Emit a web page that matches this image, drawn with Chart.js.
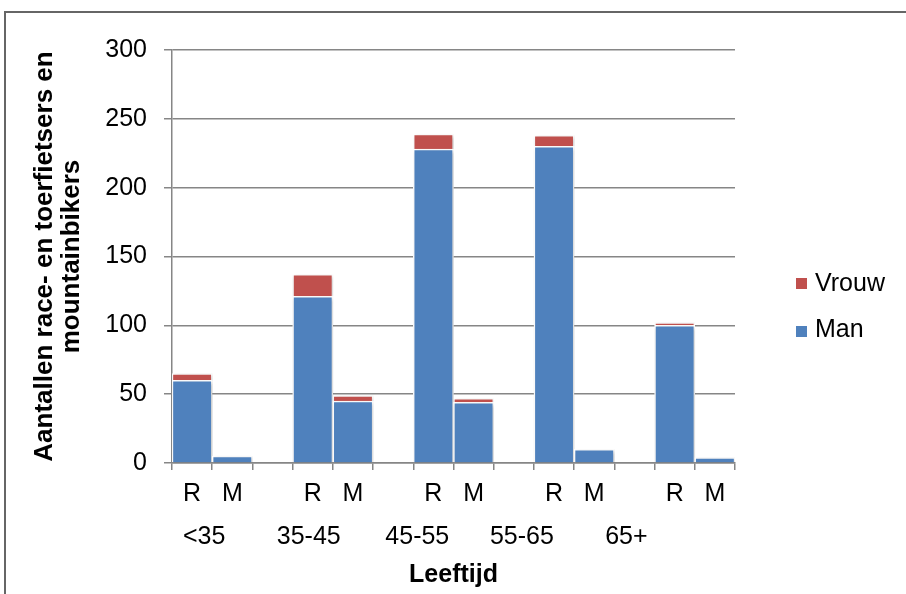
<!DOCTYPE html>
<html>
<head>
<meta charset="utf-8">
<script src="https://cdn.jsdelivr.net/npm/chart.js@4.4.1/dist/chart.umd.min.js"></script>
<style>
  html, body { margin: 0; padding: 0; background: #fff; }
  #wrap { position: relative; width: 906px; height: 594px; overflow: hidden; font-family: 'Liberation Sans', Arial, sans-serif; }
  #frame { position: absolute; left: 4px; top: 11px; width: 1000px; height: 1000px; border: 2px solid #666; box-sizing: border-box; }
  #chart { position: absolute; left: 0; top: 0; }
  .key { position: absolute; left: 796px; width: 11px; height: 11px; }
  .key-label { position: absolute; left: 815px; font-size: 25px; line-height: 25px; color: #000; white-space: nowrap; }
</style>
</head>
<body>
<div id="wrap">
  <div id="frame"></div>
  <canvas id="chart" width="906" height="594"></canvas>
  <div class="key" style="top:278px;background:#c0504d"></div>
  <div class="key-label" style="top:270px">Vrouw</div>
  <div class="key" style="top:326px;background:#4f81bd"></div>
  <div class="key-label" style="top:316px">Man</div>
</div>
<script>
// Bar slots: race (R) and mountainbike (M) per age group, with an empty slot between groups
const slots = ['R', 'M', '', 'R', 'M', '', 'R', 'M', '', 'R', 'M', '', 'R', 'M'];
const ageGroups = ['<35', '35-45', '45-55', '55-65', '65+'];
const man   = [60, 5, null, 121, 45, null, 228, 44, null, 230, 10, null, 100, 4];
const vrouw = [5, null, null, 16, 4, null, 11, 3, null, 8, null, null, 2, null];

// where the age-group captions sit along the category axis, in tenths of a slot
const ageGroupAt = [8, 34, 61, 87, 113];
const STEPS = slots.length * 10;
const ageAxisLabels = Array.from({ length: STEPS + 1 }, (_, i) => {
  const k = ageGroupAt.indexOf(i);
  return k >= 0 ? ageGroups[k] : '';
});

const FONT = "'Liberation Sans', Arial, sans-serif";
const GRID = '#868686';

const barShadow = {
  id: 'barShadow',
  beforeDatasetsDraw(chart) {
    const ctx = chart.ctx;
    ctx.save();
    ctx.shadowColor = 'rgba(0,0,0,0.22)';
    ctx.shadowBlur = 4;
    ctx.shadowOffsetX = 1.5;
    ctx.shadowOffsetY = 1.5;
  },
  afterDatasetsDraw(chart) {
    chart.ctx.restore();
  }
};

new Chart(document.getElementById('chart'), {
  type: 'bar',
  data: {
    labels: slots,
    datasets: [
      { label: 'Man', data: man, backgroundColor: '#4f81bd', borderColor: '#ffffff', borderWidth: 1.5, borderSkipped: 'start' },
      { label: 'Vrouw', data: vrouw, backgroundColor: '#c0504d', borderColor: '#ffffff', borderWidth: 1.5, borderSkipped: 'start' }
    ]
  },
  options: {
    responsive: false,
    animation: false,
    devicePixelRatio: 1,
    barPercentage: 1,
    categoryPercentage: 1,
    layout: { padding: { left: 20, top: 50, right: 171, bottom: 0 } },
    plugins: { legend: { display: false }, tooltip: { enabled: false } },
    scales: {
      x: {
        stacked: true,
        weight: 0,
        afterFit(s) { s.height = 50; },
        grid: { offset: true, drawOnChartArea: false, tickLength: 7, color: GRID, lineWidth: 1.5 },
        border: { color: GRID, width: 1.5 },
        ticks: { font: { family: FONT, size: 25 }, color: '#000', padding: 9, autoSkip: false, maxRotation: 0 }
      },
      ages: {
        type: 'category',
        labels: ageAxisLabels,
        position: 'bottom',
        weight: 1,
        offset: false,
        afterFit(s) { s.height = 81; },
        grid: { display: false },
        border: { display: false },
        ticks: { font: { family: FONT, size: 25 }, color: '#000', padding: 1, autoSkip: false, maxRotation: 0, minRotation: 0 },
        title: { display: true, text: 'Leeftijd', color: '#000', font: { family: FONT, size: 25, weight: 'bold' }, padding: { top: 0, bottom: 4 } }
      },
      y: {
        stacked: true,
        min: 0,
        max: 300,
        afterFit(s) { s.width = 152; },
        grid: { color: GRID, lineWidth: 1.5, tickLength: 8 },
        border: { color: GRID, width: 1.5 },
        ticks: { stepSize: 50, font: { family: FONT, size: 25 }, color: '#000', padding: 17 },
        title: {
          display: true,
          text: ['Aantallen race- en toerfietsers en', 'mountainbikers'],
          color: '#000',
          font: { family: FONT, size: 26, weight: 'bold', lineHeight: 1.05 },
          padding: { top: 11, bottom: 0 }
        }
      }
    }
  },
  plugins: [barShadow]
});
</script>
</body>
</html>
